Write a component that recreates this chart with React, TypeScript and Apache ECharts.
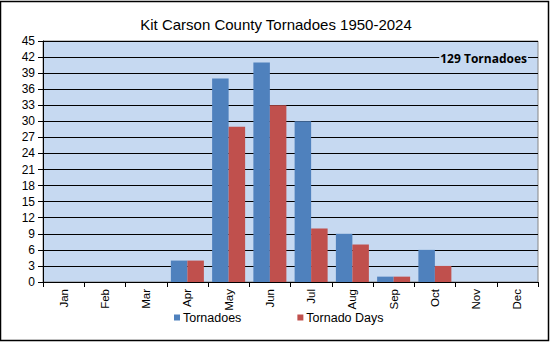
import React, { useEffect, useRef } from "react";
import * as echarts from "echarts";

const months = ["Jan", "Feb", "Mar", "Apr", "May", "Jun", "Jul", "Aug", "Sep", "Oct", "Nov", "Dec"];
const tornadoes = [0, 0, 0, 4, 38, 41, 30, 9, 1, 6, 0, 0];
const tornadoDays = [0, 0, 0, 4, 29, 33, 10, 7, 1, 3, 0, 0];
const titleText = "Kit Carson County Tornadoes 1950-2024";
const noteText = "129 Tornadoes";

export default function App() {
  const ref = useRef<HTMLDivElement>(null);
  useEffect(() => {
    document.body.style.margin = "0";
    const chart = echarts.init(ref.current!, null, { renderer: "svg" });
    const font = "'Liberation Sans', Arial, sans-serif";
    chart.setOption({
      animation: false,
      backgroundColor: "#ffffff",
      textStyle: { fontFamily: font },
      title: {
        text: titleText,
        left: "center",
        top: 12,
        textStyle: { fontFamily: font, fontSize: 15, fontWeight: "normal", color: "#000" },
      },
      legend: {
        left: 169,
        top: 306,
        itemWidth: 6,
        itemHeight: 6,
        itemGap: 56,
        icon: "rect",
        textStyle: { fontFamily: font, fontSize: 12.5, color: "#000", padding: [0, 0, 0, -2] },
        data: ["Tornadoes", "Tornado Days"],
      },
      grid: {
        left: 43,
        right: 14,
        top: 41,
        bottom: 62,
        show: true,
        backgroundColor: "#C6D9F1",
        borderColor: "#868686",
        borderWidth: 1,
      },
      xAxis: {
        type: "category",
        data: months,
        axisLine: { lineStyle: { color: "#000", width: 1 } },
        axisTick: { show: true, length: 5, interval: 0, lineStyle: { color: "#000" } },
        axisLabel: { rotate: 90, interval: 0, fontSize: 11.5, color: "#000", fontFamily: font, margin: 7 },
      },
      yAxis: {
        type: "value",
        min: 0,
        max: 45,
        interval: 3,
        axisLine: { show: true, lineStyle: { color: "#000", width: 1 } },
        axisTick: { show: true, length: 5, lineStyle: { color: "#000" } },
        axisLabel: { fontSize: 12, color: "#000", fontFamily: font, margin: 8 },
        splitLine: { show: true, lineStyle: { color: "#000", width: 1 } },
      },
      series: [
        {
          name: "Tornadoes",
          type: "bar",
          data: tornadoes,
          itemStyle: { color: "#4F81BD" },
          barGap: "0%",
          barCategoryGap: "20%",
        },
        {
          name: "Tornado Days",
          type: "bar",
          data: tornadoDays,
          itemStyle: { color: "#C0504D" },
          barGap: "0%",
          barCategoryGap: "20%",
        },
      ],
      graphic: [
        {
          type: "text",
          right: 24,
          top: 52,
          z: 100,
          style: {
            text: noteText,
            fontFamily: "'Open Sans', sans-serif",
            fontWeight: "bold",
            fontSize: 12,
            fill: "#000",
            backgroundColor: "#C6D9F1",
            padding: [0, 1],
          },
        },
        {
          type: "rect",
          shape: { x: 0.5, y: 1.5, width: 548, height: 339 },
          style: { fill: "none", stroke: "#000", lineWidth: 1.5 },
          z: 100,
        },
      ],
    });
    return () => chart.dispose();
  }, []);
  return <div ref={ref} style={{ width: 552, height: 344 }} />;
}
